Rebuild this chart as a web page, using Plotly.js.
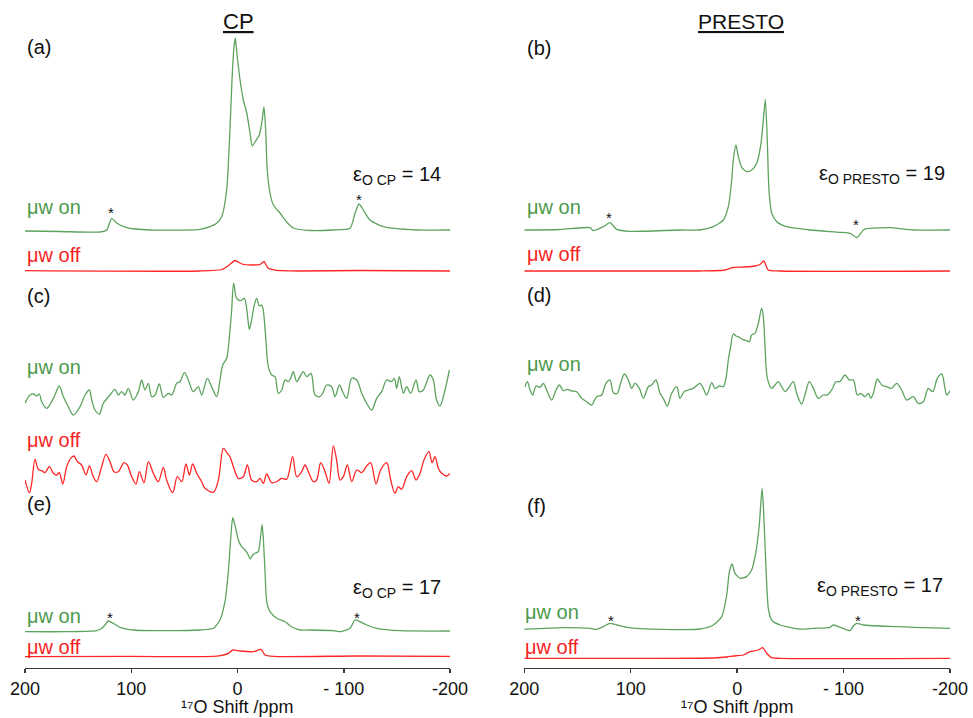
<!DOCTYPE html>
<html>
<head>
<meta charset="utf-8">
<script src="https://cdn.plot.ly/plotly-3.0.1.min.js"></script>
<style>html,body{margin:0;padding:0;background:#fff;}#chart{width:973px;height:718px;}</style>
</head>
<body>
<div id="chart"></div>
<script>
// ---------- DATA (17O shift in ppm, relative intensity) ----------
const tickVals = [200, 100, 0, -100, -200];
const tickText = ['200', '100', '0', '- 100', '-200'];

// (a) CP
const aOnPpm = [200,167,129.4,123.1,118.4,113.7,104.3,82.4,35.3,25.9,19.6,14.9,10.2,7.1,5.2,3.3,2.1,0.2,-2.4,-5.5,-8.7,-11.8,-13.9,-16.5,-20.5,-22.8,-24.9,-26.5,-28,-30.6,-33.7,-40,-46.3,-52.5,-68.2,-89.9,-105.9,-110.6,-114.4,-118.4,-124.7,-137.2,-168.6,-200];
const aOnInt = [0,-0.5,-1,1,12.7,8,3.3,1,1.7,4.3,7.7,14.3,41,101,151,184,193,174,151,131,118,98,85,89,96,108,124,101,61,38,26,18,9,3,0.5,1,2.7,17.7,27,21,11,4.3,1,1];
const aOffPpm = [200,35.3,14.6,8.9,2.4,-4.2,-13.6,-21.2,-24.9,-28.7,-35.3,-58.8,-115.3,-200];
const aOffInt = [0.3,0,1.5,5,10.5,7,6,6.5,9.5,3,0.8,0,0.5,0];

// (b) PRESTO
const bOnPpm = [200,166.5,138.3,135.2,125.8,119.5,113.2,100.7,53.7,34.9,22.4,13,8.3,5.1,3.6,1.1,-1.1,-4.3,-9,-13.7,-18.4,-22.4,-24.6,-26.5,-28.3,-29.9,-32.5,-37.2,-46.6,-68.5,-96.7,-106.1,-112.3,-118.6,-121.7,-143.6,-165.5,-200];
const bOnInt = [0,0.5,2.3,-0.7,3.3,7.3,0.7,-1.3,0,0,3.3,10,23.3,50,70,85,73.3,62.7,58.3,60,66.7,86.7,110,130.7,90,40,16.7,8.3,3.3,0,-2.3,-3.3,-7.7,0,1.3,2.3,0,0];
const bOffPpm = [200,34.9,11.5,4,-7.3,-16.7,-21.4,-25.1,-29.2,-40.2,-200];
const bOffInt = [0,0,1,3.5,4,5,6.5,10,1,0,0];

// (c) CP, noisy
const cOnPpm = [200.0,195.3,192.2,189.0,186.5,184.3,179.6,174.9,171.8,167.7,163.9,159.2,154.5,148.2,143.5,139.4,137.2,134.1,130.0,126.3,120.0,115.3,112.2,109.0,105.9,102.8,98.0,93.3,90.2,87.1,83.9,80.8,77.6,73.6,69.8,65.1,61.9,57.2,54.1,50.0,46.3,41.6,36.9,33.7,28.4,24.3,19.6,16.5,13.9,10.2,7.1,5.5,3.6,0.8,-3.0,-6.4,-8.6,-10.2,-11.2,-13.3,-15.5,-18.0,-20.6,-22.8,-24.3,-26.5,-29.0,-32.2,-35.3,-38.4,-41.6,-44.7,-47.8,-50.0,-52.5,-55.7,-58.8,-62.0,-65.1,-69.2,-73.0,-77.6,-80.2,-83.9,-88.6,-91.8,-95.9,-99.6,-102.8,-107.5,-112.2,-116.9,-121.6,-126.3,-131.0,-135.7,-140.4,-145.1,-147.6,-149.8,-152.3,-156.1,-159.2,-163.0,-168.0,-171.1,-174.9,-181.2,-184.3,-187.4,-190.6,-195.3,-199.4];
const cOnInt = [-10.3,-2,-1,-3,-1,-8.7,-15.3,-8.7,-2,7,-3.7,-13.7,-22,-13.7,-2,3,-7,-17,-21,-10.3,-2,3.7,-2,1.3,-2,4.7,-7,1.3,13,3,9.7,-3.7,-2,9,-4.3,-0.3,-2,9.7,11.3,20.3,13,1.3,6.3,-2,14.7,6.3,-3.7,13,28,34.7,63,83,109.7,94.7,92.3,94.7,84.7,69.7,63.7,73,86.3,94.7,87,88,82.3,56.3,26.3,18,16.3,-0.3,3,13,11.3,14.7,21.3,11.3,16.3,21.3,16.3,19.7,-2,-3.7,-0.3,8,6.3,-3.7,8,-0.3,-5.3,14.7,13,-0.3,-10.3,-17,-5.3,1.3,13,11.3,14.7,4.7,16.3,-0.3,6.3,-0.3,13,1.3,3,18,13,-7,-13,3,23];
const cOffPpm = [200.0,195.9,193.7,190.6,187.5,184.3,181.2,177.1,173.3,170.2,167.7,164.5,160.8,157.0,153.9,150.7,146.7,142.6,139.4,135.7,132.5,127.9,123.8,120.0,116.2,112.2,106.8,103.7,99.6,95.5,92.4,88.0,83.9,79.2,74.5,69.8,66.7,61.0,56.6,52.5,48.5,45.3,42.2,38.4,33.7,30.6,22.7,18.0,13.3,9.6,7.1,3.9,-0.8,-5.5,-9.3,-13.3,-18.0,-21.2,-24.3,-27.5,-32.2,-36.9,-41.6,-46.3,-51.9,-55.7,-60.4,-63.5,-66.7,-71.4,-74.5,-78.3,-82.4,-86.1,-90.2,-93.3,-96.5,-99.6,-103.4,-107.5,-112.2,-116.9,-121.0,-125.3,-130.4,-134.7,-140.4,-144.2,-148.2,-151.4,-154.5,-159.2,-163.9,-168.0,-171.8,-175.5,-180.2,-183.1,-185.9,-189.0,-192.2,-196.9,-200.0];
const cOffInt = [-3.3,-16,-6.6,17.4,7.4,6,4,10,3.4,1.7,4,-7.3,10,18.4,20.7,15,11.7,1.7,10.7,0,-5,10,22.4,15,5,5,14,11.7,0,-7.3,5,-6,15,3.4,-5,9.4,-3.3,-16,0,-5,12.7,1.7,12.7,3.4,-5,-11.6,-15.6,-3.3,28.4,23.4,20,10,-1.6,0,11.7,-3.3,-5,-1.6,-6.6,2.7,-6,-5,-1.6,-2.6,20,0,5,11.7,5,-5,-3.3,14,5,-6.6,30.7,16.7,-3.3,0,11.7,-5,6.7,4,10,14,-7.3,6.7,14,-3.3,-16.6,-10,-12.6,0,6,-3.3,3.4,16.7,25,14,20,8.4,3.4,0.7,3.4];

// (d) PRESTO, noisy
const dOnPpm = [199.3,197.1,194.6,192.1,189.0,185.2,182.1,179.0,174.3,170.2,167.1,163.3,159.6,155.5,150.8,146.1,141.4,136.7,132.0,127.3,123.3,119.5,116.3,112.6,109.5,106.0,102.2,99.1,96.0,91.9,88.1,83.5,80.3,76.3,72.5,69.4,65.6,61.5,56.8,53.7,49.9,45.9,41.2,34.9,31.8,28.6,23.9,20.8,16.7,13.0,10.5,8.3,6.1,3.6,1.1,-2.1,-5.2,-9.0,-11.5,-13.6,-16.8,-19.9,-23.0,-24.6,-26.2,-28.4,-32.4,-35.6,-38.7,-41.8,-45.0,-48.1,-52.8,-55.9,-60.6,-63.7,-67.8,-71.6,-76.3,-81.0,-84.7,-88.8,-92.9,-96.6,-101.3,-105.4,-109.2,-112.9,-116.1,-120.1,-123.3,-125.5,-128.0,-131.7,-135.8,-140.5,-145.2,-149.9,-154.6,-159.3,-165.5,-170.2,-174.9,-179.6,-183.7,-188.1,-192.2,-195.3,-196.9,-200.6];
const dOnInt = [5,10,1.7,-3.3,5.7,4.4,8.4,1.7,-8.3,1.7,6.7,1,2.4,0.7,0,-6.6,-10,-13.3,-5,-3.3,8.4,11.7,-1,-1.6,8.4,17.7,11.7,3.4,8.4,3.4,-6.6,5,6.7,11.7,-1.6,-6.6,-14.3,-1.6,5,-6.6,0,1.7,3.4,8.4,3.4,-3.3,9,3.4,5.7,5,13.4,31.7,45,57.7,55.7,54.4,52.4,51,50,56.7,58.4,68.4,83.4,75,45,13.4,3.4,6.7,10,5,0,3.4,10,-1.6,-12.3,-3.3,10,3.4,-6.6,-3.3,-3.3,1.7,10,10,16.7,11.7,11.7,-3.3,-1.6,-5,-1.6,-6.6,-1.6,12.7,6.7,5,3.4,8.4,1.7,-8.3,-5,-11.6,-10,3.4,0,13.4,17.7,3.4,-3.3,1.7];

// (e) CP
const eOnPpm = [200,160.8,132.6,127.8,124.7,121.6,116.9,110.6,98.0,66.7,35.3,22.7,16.5,11.8,8.6,6.4,4.5,2.4,-0.8,-3.9,-7.1,-10.2,-11.8,-14.3,-16.5,-19.6,-21.2,-23.1,-24.3,-25.9,-27.5,-30.6,-36.9,-44.7,-51.0,-58.8,-68.2,-90.2,-96.5,-105.9,-110.6,-115.3,-121.6,-131.0,-153.0,-200];
const eOnInt = [0,0,1,3.4,6.7,10.7,8.4,4.4,1.7,1,1.7,3.4,11.7,30,60,93.4,114,106.7,91.7,85,81.7,76.7,72.7,76.7,78.4,80,90,107.4,93.4,60,30,20,13.4,10,5,1.7,1.7,1,0,3.4,11.7,10,6.7,3.4,1,0.7];
const eOffPpm = [200,98.0,19.6,8.6,4.5,-2.3,-14.9,-22.1,-25.9,-33.7,-112.2,-200];
const eOffInt = [0,0.3,0.5,3.3,6.7,5.7,5,7.3,1.7,0.3,0.7,0.3];

// (f) PRESTO
const fOnPpm = [200,163.3,138.3,132.0,125.7,119.5,113.2,103.8,69.4,34.9,22.4,14.5,9.8,7.3,4.8,2.0,-2.7,-8.9,-13.6,-17.7,-20.8,-23.4,-24.6,-27.1,-29.3,-32.4,-40.3,-59.1,-71.6,-87.3,-90.4,-95.1,-106.0,-109.2,-112.3,-118.6,-149.9,-165.5,-200];
const fOnInt = [-1,0.7,0,-1,1.7,5,3.3,1,-1,-0.7,3.3,11.7,33.3,56.7,64.3,55,50,51.7,58.3,76.7,103.3,140,123.3,60,20,8.3,3.3,-0.7,0,1,3.3,1.7,-2.3,2.3,5,3.3,1.7,1,0];
const fOffPpm = [200,85.0,22.4,9.8,3.6,-5.8,-12.1,-19.9,-24.0,-27.7,-32.4,-40.3,-200];
const fOffInt = [0,0,0.3,1.3,2.3,3.3,6.7,8.3,10.7,5,0.7,0,0];

// ---------- LAYOUT / STYLE ----------
const W = 973, H = 718;
const FONT = 'Arial, "Liberation Sans", sans-serif';
const GREEN = '#5da35d', GREEN_T = '#4c9a4c';
const RED = '#ff2626', RED_T = '#f52424';

// trace definitions: [ppm, int, column(1 left / 2 right), baseline pixel row, colour, smoothing]
const specs = [
  [aOnPpm, aOnInt, 1, 231, GREEN, 0.6],
  [aOffPpm, aOffInt, 1, 271, RED, 0.6],
  [bOnPpm, bOnInt, 2, 230, GREEN, 0.6],
  [bOffPpm, bOffInt, 2, 271, RED, 0.6],
  [cOnPpm, cOnInt, 1, 393, GREEN, 0.9],
  [cOffPpm, cOffInt, 1, 476.7, RED, 0.9],
  [dOnPpm, dOnInt, 2, 391.7, GREEN, 0.9],
  [eOnPpm, eOnInt, 1, 631.7, GREEN, 0.6],
  [eOffPpm, eOffInt, 1, 656.7, RED, 0.6],
  [fOnPpm, fOnInt, 2, 628.3, GREEN, 0.6],
  [fOffPpm, fOffInt, 2, 658.3, RED, 0.6]
];

const xAxisBase = {
  range: [200, -200], anchor: 'free', position: (H - 667.5) / H,
  showline: true, linecolor: '#3a3a3a', linewidth: 1.5,
  ticks: 'outside', ticklen: 4, tickwidth: 1.5, tickcolor: '#3a3a3a',
  tickmode: 'array', tickvals: tickVals, ticktext: tickText,
  tickfont: {family: FONT, size: 18, color: '#111'},
  showgrid: false, zeroline: false, fixedrange: true
};

const layout = {
  width: W, height: H,
  margin: {l: 0, r: 0, t: 0, b: 0},
  paper_bgcolor: '#fff', plot_bgcolor: 'rgba(0,0,0,0)',
  showlegend: false,
  font: {family: FONT},
  xaxis: Object.assign({}, xAxisBase, {domain: [25 / W, 450 / W]}),
  xaxis2: Object.assign({}, xAxisBase, {domain: [524.3 / W, 950 / W]}),
  annotations: []
};

const traces = [];
specs.forEach((s, i) => {
  const [ppm, ints, col, base, color, smooth] = s;
  const lo = Math.min(...ints) - 3, hi = Math.max(...ints) + 3;
  const yName = 'yaxis' + (i === 0 ? '' : (i + 1));
  layout[yName] = {
    domain: [(H - base + lo) / H, (H - base + hi) / H],
    range: [lo, hi], visible: false, fixedrange: true,
    anchor: col === 1 ? 'x' : 'x2'
  };
  traces.push({
    x: ppm, y: ints, type: 'scatter', mode: 'lines',
    xaxis: col === 1 ? 'x' : 'x2', yaxis: 'y' + (i === 0 ? '' : (i + 1)),
    line: {color: color, width: 1.3, shape: 'spline', smoothing: smooth},
    hoverinfo: 'skip'
  });
});

function ann(text, px, py, size, color, xanchor, extra) {
  layout.annotations.push(Object.assign({
    text: text, xref: 'paper', yref: 'paper',
    x: px / W, y: 1 - py / H, xanchor: xanchor || 'center', yanchor: 'middle',
    showarrow: false, font: {family: FONT, size: size, color: color || '#000'}
  }, extra || {}));
}

// column headers
ann('<u>CP</u>', 238, 22, 22, '#111');
ann('<u>PRESTO</u>', 741, 22, 21, '#111');
// panel letters
[['(a)', 25, 47], ['(b)', 525, 48], ['(c)', 25, 296], ['(d)', 525, 295], ['(e)', 25, 504], ['(f)', 525, 506]]
  .forEach(p => ann(p[0], p[1], p[2], 20, '#111', 'left'));
// μw labels
[['μw on', 25, 207, GREEN_T], ['μw off', 25, 255.5, RED_T],
 ['μw on', 525, 207, GREEN_T], ['μw off', 525, 254, RED_T],
 ['μw on', 25, 367, GREEN_T], ['μw off', 25, 440.5, RED_T],
 ['μw on', 525, 364, GREEN_T],
 ['μw on', 25, 615.5, GREEN_T], ['μw off', 25, 646.5, RED_T],
 ['μw on', 523, 612, GREEN_T], ['μw off', 523, 647, RED_T]]
  .forEach(p => ann(p[0], p[1], p[2], 20, p[3], 'left'));
// enhancement factors
ann('ε<sub>O CP</sub> = 14', 443, 176, 20, '#111', 'right');
ann('ε<sub>O PRESTO</sub> = 19', 947, 174, 20, '#111', 'right');
ann('ε<sub>O CP</sub> = 17', 443, 588, 20, '#111', 'right');
ann('ε<sub>O PRESTO</sub> = 17', 945, 586, 20, '#111', 'right');
// spinning sidebands
[[111, 213], [359, 199], [609, 217], [856, 225], [110, 617], [357, 617], [611, 620], [858, 620]]
  .forEach(p => ann('*', p[0], p[1], 15, '#111'));
// axis titles (anchored to the bottom edge of the page)
[237.5, 737].forEach(px => layout.annotations.push({
  text: '¹⁷O Shift /ppm', xref: 'paper', yref: 'paper', x: px / W, y: 0,
  xanchor: 'center', yanchor: 'bottom', showarrow: false, borderpad: 0,
  font: {family: FONT, size: 18, color: '#111'}
}));

Plotly.newPlot('chart', traces, layout, {displayModeBar: false, staticPlot: true});
</script>
</body>
</html>
